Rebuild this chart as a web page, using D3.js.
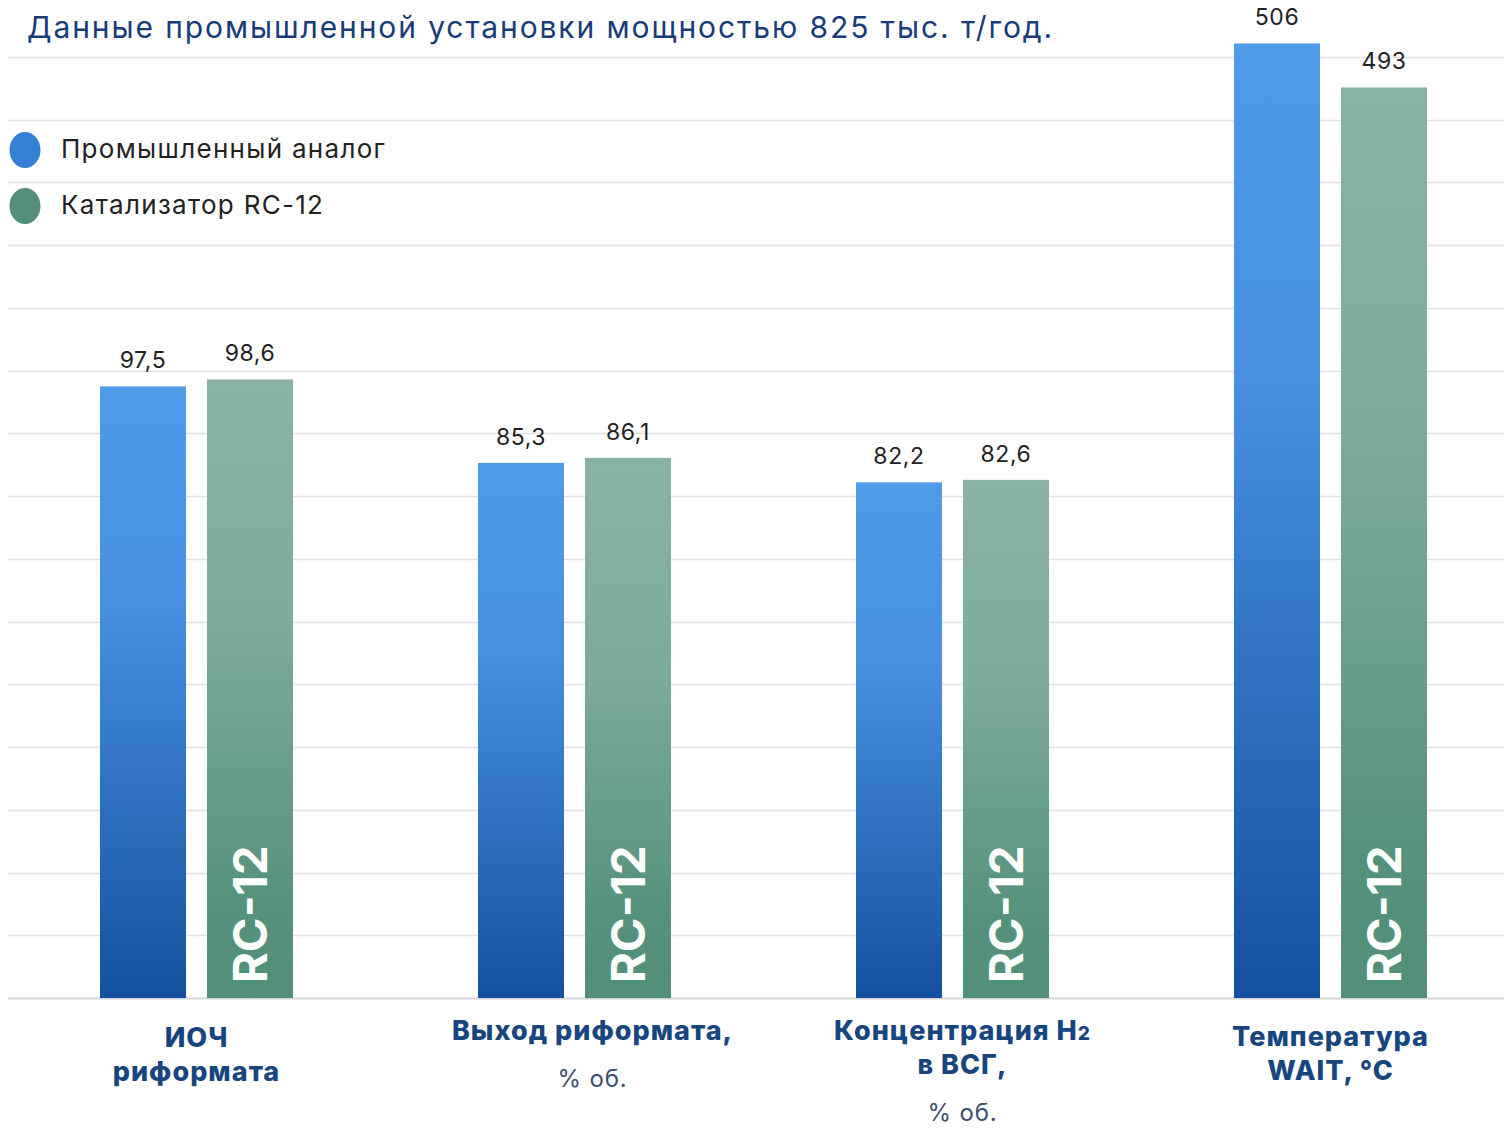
<!doctype html>
<html>
<head>
<meta charset="utf-8">
<script src="https://d3js.org/d3.v7.min.js"></script>
<style>
body { margin: 0; background: #fff; }
text { font-family: Inter, "Open Sans", sans-serif; }
</style>
</head>
<body>
<script>
// data
var categories = ["ИОЧ риформата", "Выход риформата", "Концентрация H2", "Температура WAIT"];
var series = ["Промышленный аналог", "Катализатор RC-12"];
var analogValues = [97.5, 85.3, 82.2, 506];
var rc12Values = [98.6, 86.1, 82.6, 493];
var valueLabels = [["97,5", "98,6"], ["85,3", "86,1"], ["82,2", "82,6"], ["506", "493"]];
var catLines = [["ИОЧ", "риформата"], ["Выход риформата,"], ["Концентрация H|2", "в ВСГ,"], ["Температура", "WAIT, °C"]];
var catUnits = ["", "% об.", "% об.", ""];
var title = "Данные промышленной установки мощностью 825 тыс. т/год.";

var width = 1504, height = 1128;
var base = 998, top0 = 57;

var svg = d3.select("body").append("svg")
    .attr("width", width)
    .attr("height", height);

var defs = svg.append("defs");
var gb = defs.append("linearGradient").attr("id", "gBlue").attr("x1", 0).attr("y1", 0).attr("x2", 0).attr("y2", 1);
gb.append("stop").attr("offset", "0%").attr("stop-color", "#4f9bea");
gb.append("stop").attr("offset", "35%").attr("stop-color", "#4790e2");
gb.append("stop").attr("offset", "100%").attr("stop-color", "#1550a0");
var gg = defs.append("linearGradient").attr("id", "gGreen").attr("x1", 0).attr("y1", 0).attr("x2", 0).attr("y2", 1);
gg.append("stop").attr("offset", "0%").attr("stop-color", "#89b3a3");
gg.append("stop").attr("offset", "40%").attr("stop-color", "#7dab99");
gg.append("stop").attr("offset", "85%").attr("stop-color", "#55917c");
gg.append("stop").attr("offset", "100%").attr("stop-color", "#528f79");

// scales: percent-type groups share one scale, temperature has its own
var y = d3.scaleLinear().domain([0, 150]).range([base, top0]);
var yT = d3.scaleLinear().domain([224, 502]).range([base, top0]);
var x = d3.scaleBand().domain(categories).range([7.5, 1519.5]);
var xs = d3.scaleBand().domain(series).range([92.5, 285.5]).paddingInner(21 / 107);

// grid
svg.append("g").selectAll("line")
    .data(y.ticks(15))
    .enter().append("line")
    .attr("x1", 8).attr("x2", 1504)
    .attr("y1", function (d) { return Math.round(y(d)) + 0.5; })
    .attr("y2", function (d) { return Math.round(y(d)) + 0.5; })
    .attr("stroke", function (d) { return d == 0 ? "#d4d4d4" : "#e2e2e2"; })
    .attr("stroke-width", function (d) { return d == 0 ? 2 : 1.3; });

// title
svg.append("text")
    .attr("x", 27).attr("y", 38)
    .attr("font-size", 30)
    .attr("letter-spacing", 1.9)
    .attr("fill", "#173c78")
    .text(title);

// legend
var legColors = ["#3580d5", "#548f7a"];
var leg = svg.append("g").selectAll("g").data(series).enter().append("g");
leg.append("ellipse")
    .attr("cx", 25).attr("cy", function (d, i) { return 150 + i * 56; })
    .attr("rx", 15.5).attr("ry", 18)
    .attr("fill", function (d, i) { return legColors[i]; });
leg.append("text")
    .attr("x", 61).attr("y", function (d, i) { return 158 + i * 56; })
    .attr("font-size", 26)
    .attr("letter-spacing", 1.3)
    .attr("fill", "#222")
    .text(function (d) { return d; });

// bars
var groups = svg.append("g").selectAll("g")
    .data(categories)
    .enter().append("g")
    .attr("transform", function (d) { return "translate(" + x(d) + ",0)"; });

function barData(d, i) {
    var sc = i == 3 ? yT : y;
    return [
        { s: series[0], v: analogValues[i], lab: valueLabels[i][0], sc: sc, fill: "url(#gBlue)" },
        { s: series[1], v: rc12Values[i], lab: valueLabels[i][1], sc: sc, fill: "url(#gGreen)" }
    ];
}

groups.selectAll("rect")
    .data(barData)
    .enter().append("rect")
    .attr("x", function (d) { return xs(d.s); })
    .attr("width", xs.bandwidth())
    .attr("y", function (d) { return d.sc(d.v); })
    .attr("height", function (d) { return base - d.sc(d.v); })
    .attr("fill", function (d) { return d.fill; });

groups.selectAll("text.val")
    .data(barData)
    .enter().append("text")
    .attr("class", "val")
    .attr("x", function (d) { return xs(d.s) + xs.bandwidth() / 2; })
    .attr("y", function (d) { return d.sc(d.v) - 18; })
    .attr("text-anchor", "middle")
    .attr("font-size", 23)
    .attr("letter-spacing", 0.6)
    .attr("fill", "#222")
    .text(function (d) { return d.lab; });

// RC-12 inside green bars
groups.append("text")
    .attr("transform", "translate(" + (xs(series[1]) + xs.bandwidth() / 2 + 17) + "," + 983 + ") rotate(-90)")
    .attr("font-family", "'Liberation Sans', Arial, sans-serif")
    .attr("font-weight", "bold")
    .attr("font-size", 47)
    .attr("fill", "#fff")
    .text("RC-12");

// category labels
var labShift = [0, 18, 10, 0];
var labTop = [1047, 1040, 1040, 1046];
groups.each(function (d, i) {
    var g = d3.select(this);
    var cx = x.bandwidth() / 2 + labShift[i];
    catLines[i].forEach(function (line, j) {
        var t = g.append("text")
            .attr("x", cx).attr("y", labTop[i] + j * 34)
            .attr("text-anchor", "middle")
            .attr("font-size", 27)
            .attr("letter-spacing", 1)
            .attr("font-weight", 800)
            .attr("fill", "#17467f");
        var parts = line.split("|");
        t.append("tspan").text(parts[0]);
        if (parts[1]) t.append("tspan").attr("font-size", 19).text(parts[1]);
    });
    if (catUnits[i]) {
        g.append("text")
            .attr("x", cx).attr("y", labTop[i] + (catLines[i].length - 1) * 34 + 47)
            .attr("text-anchor", "middle")
            .attr("font-size", 24)
            .attr("letter-spacing", 0.8)
            .attr("fill", "#3c4e6e")
            .text(catUnits[i]);
    }
});
</script>
</body>
</html>
